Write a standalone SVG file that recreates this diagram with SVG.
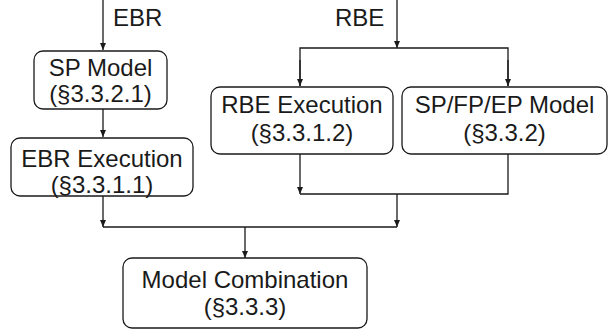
<svg xmlns="http://www.w3.org/2000/svg" width="609" height="334" viewBox="0 0 609 334">
<defs>
<marker id="ah" markerWidth="8" markerHeight="10" refX="7" refY="4" orient="auto" markerUnits="userSpaceOnUse" viewBox="0 0 8 8">
<path d="M0,1 L7,4 L0,7 z" fill="#1a1a1a"/>
</marker>
</defs>
<style>
.box{fill:#fff;stroke:#1a1a1a;stroke-width:1.3}
.t{font-family:"Liberation Sans",Arial,sans-serif;font-size:24px;fill:#1a1a1a;text-anchor:middle}
.l{font-family:"Liberation Sans",Arial,sans-serif;font-size:24px;fill:#1a1a1a}
.c{fill:none;stroke:#1a1a1a;stroke-width:1.3}
</style>
<g id="connectors">
<path class="c" d="M103,0 V50" marker-end="url(#ah)"/>
<path class="c" d="M103,109 V137" marker-end="url(#ah)"/>
<path class="c" d="M397,0 V48" marker-end="url(#ah)"/>
<path class="c" d="M300,86 V48 H508 V86" />
<path class="c" d="M300,60 V86" marker-end="url(#ah)"/>
<path class="c" d="M508,60 V86" marker-end="url(#ah)"/>
<path class="c" d="M300,154 V194" marker-end="url(#ah)"/>
<path class="c" d="M508,154 V194 H300"/>
<path class="c" d="M103,196 V227" marker-end="url(#ah)"/>
<path class="c" d="M397,194 V227" marker-end="url(#ah)"/>
<path class="c" d="M103,227 H397"/>
<path class="c" d="M245,227 V258" marker-end="url(#ah)"/>
<text class="l" x="113" y="26">EBR</text>
<text class="l" x="335" y="26">RBE</text>
</g>
<g id="sp-model">
<rect class="box" x="34" y="51" width="133" height="58" rx="9"/>
<text class="t" x="100.5" y="76">SP Model</text>
<text class="t" x="100.5" y="102">(§3.3.2.1)</text>
</g>
<g id="ebr-execution">
<rect class="box" x="11" y="138" width="182" height="58" rx="9"/>
<text class="t" x="102" y="167">EBR Execution</text>
<text class="t" x="102" y="193">(§3.3.1.1)</text>
</g>
<g id="rbe-execution">
<rect class="box" x="211" y="87" width="182" height="67" rx="9"/>
<text class="t" x="302" y="113">RBE Execution</text>
<text class="t" x="302" y="141">(§3.3.1.2)</text>
</g>
<g id="spfpep-model">
<rect class="box" x="402" y="87" width="205" height="67" rx="9"/>
<text class="t" x="504.5" y="113">SP/FP/EP Model</text>
<text class="t" x="504.5" y="141">(§3.3.2)</text>
</g>
<g id="model-combination">
<rect class="box" x="123" y="258" width="244" height="70" rx="9"/>
<text class="t" x="245" y="288">Model Combination</text>
<text class="t" x="245" y="315">(§3.3.3)</text>
</g>
</svg>
